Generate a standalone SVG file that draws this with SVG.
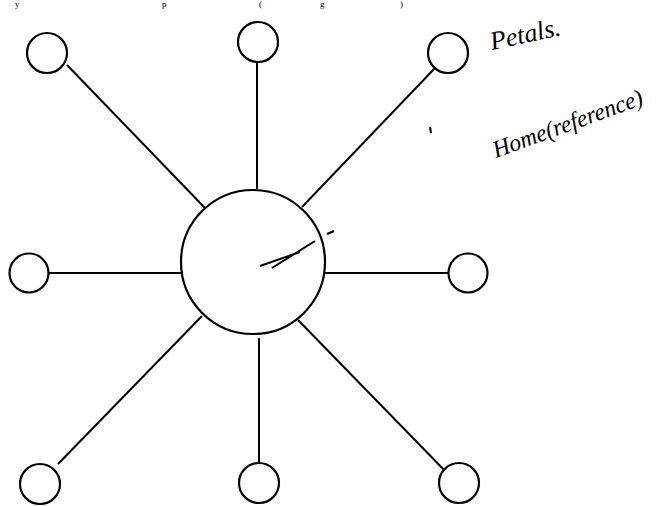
<svg xmlns="http://www.w3.org/2000/svg" width="666" height="506" viewBox="0 0 666 506">
<style>
.n{fill:#fff;stroke:#000;stroke-width:2.2}
.c{stroke:#000;stroke-width:2;fill:none}
.cut{font-family:"Liberation Serif",serif;font-size:9px;fill:#000}
.hw{font-family:"Liberation Serif",serif;font-style:italic;fill:#000}
</style>
<rect width="666" height="506" fill="#fff"/>
<g id="cut-text">
<text class="cut" x="15" y="7">y</text>
<text class="cut" x="162" y="7">p</text>
<text class="cut" x="259" y="7">(</text>
<text class="cut" x="320" y="7">g</text>
<text class="cut" x="400" y="7">)</text>
</g>
<g id="connectors">
<line class="c" x1="67" y1="65" x2="205" y2="208"/>
<line class="c" x1="257" y1="62" x2="257" y2="189"/>
<line class="c" x1="436" y1="67" x2="302" y2="207"/>
<line class="c" x1="48" y1="273" x2="182" y2="273"/>
<line class="c" x1="325" y1="273" x2="448" y2="273"/>
<line class="c" x1="58" y1="464" x2="202" y2="316"/>
<line class="c" x1="259" y1="338" x2="259" y2="477"/>
<line class="c" x1="298" y1="320" x2="450" y2="476"/>
</g>
<g id="home"><circle class="n" cx="253" cy="262" r="72"/></g>
<g id="petal-tl"><circle class="n" cx="47" cy="53" r="20"/></g>
<g id="petal-t"><circle class="n" cx="258" cy="42" r="20"/></g>
<g id="petal-tr"><circle class="n" cx="448" cy="53" r="20"/></g>
<g id="petal-l"><circle class="n" cx="29" cy="273" r="19.5"/></g>
<g id="petal-r"><circle class="n" cx="468" cy="273" r="19.5"/></g>
<g id="petal-bl"><circle class="n" cx="40" cy="484" r="20"/></g>
<g id="petal-b"><circle class="n" cx="259" cy="483" r="20"/></g>
<g id="petal-br"><circle class="n" cx="459" cy="483" r="20"/></g>
<g id="annotations">
<path d="M260 266 L300 252 M272 268 L315 241 M327 234 L334 231 M430 127 L431 133" stroke="#000" stroke-width="2" fill="none"/>
<text class="hw" font-size="26" transform="translate(492 50) rotate(-12)">Petals.</text>
<text class="hw" font-size="24" textLength="158" lengthAdjust="spacingAndGlyphs" transform="translate(496 158) rotate(-20)">Home(reference)</text>
</g>
</svg>
